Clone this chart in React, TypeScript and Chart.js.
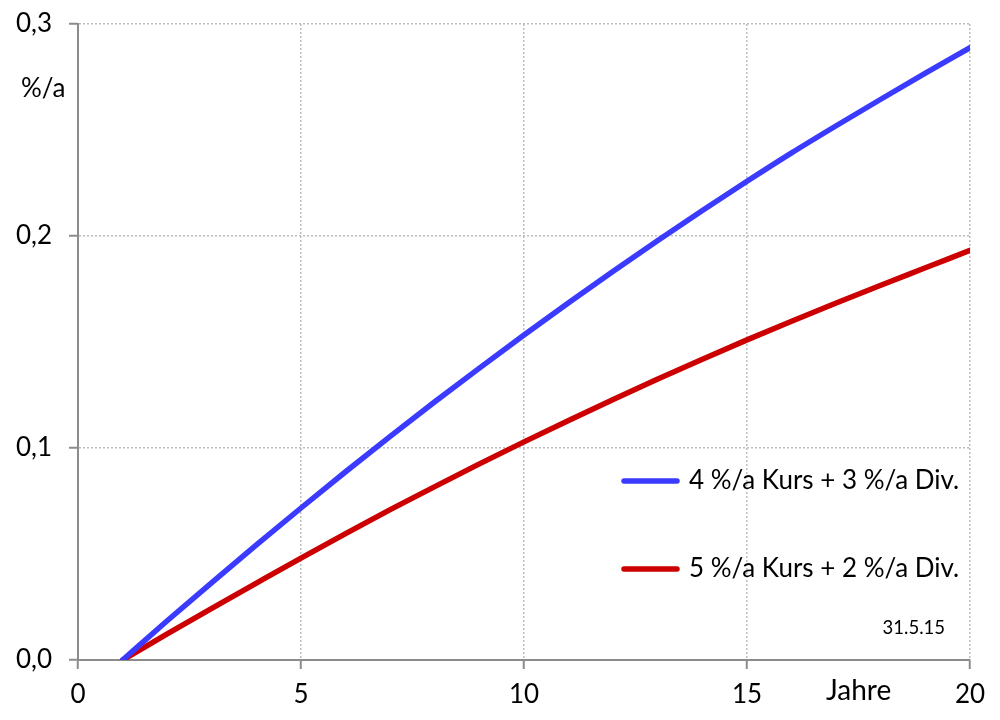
import React, { useEffect, useRef } from "react";
import { Chart, registerables } from "chart.js";

Chart.register(...registerables);

const years = [1, 2, 3, 4, 5, 6, 7, 8, 9, 10, 11, 12, 13, 14, 15, 16, 17, 18, 19, 20];
const blueValues = [0, 0.0185, 0.0365, 0.0543, 0.0717, 0.0888, 0.1055, 0.1218, 0.1377, 0.1533, 0.1685, 0.1834, 0.1979, 0.212, 0.2258, 0.2392, 0.252, 0.2645, 0.2768, 0.2888];
const redValues = [0, 0.0123, 0.0244, 0.0363, 0.0481, 0.0596, 0.0709, 0.0818, 0.0925, 0.1029, 0.113, 0.1229, 0.1325, 0.1419, 0.151, 0.1598, 0.1684, 0.1768, 0.185, 0.1932];
const seriesLabels = ["4 %/a Kurs + 3 %/a Div.", "5 %/a Kurs + 2 %/a Div."];
const seriesColors = ["#3b3bff", "#cc0000"];
const yUnitLabel = "%/a";
const xUnitLabel = "Jahre";
const dateNote = "31.5.15";

const FONT = "Lato, 'Open Sans', sans-serif";

const annotations = {
  id: "annotations",
  afterDraw(chart: any) {
    const ctx = chart.ctx;
    ctx.save();
    ctx.fillStyle = "#000";
    ctx.textBaseline = "middle";
    ctx.textAlign = "left";
    ctx.font = `26px ${FONT}`;
    ctx.fillText(yUnitLabel, 21, 89);
    ctx.font = `28px ${FONT}`;
    ctx.fillText(xUnitLabel, 826, 691);
    // legend
    const legendYs = [481, 569];
    ctx.font = `26px ${FONT}`;
    chart.data.datasets.forEach((ds: any, i: number) => {
      ctx.strokeStyle = ds.borderColor;
      ctx.lineWidth = 5.5;
      ctx.lineCap = "round";
      ctx.beginPath();
      ctx.moveTo(624, legendYs[i]);
      ctx.lineTo(677, legendYs[i]);
      ctx.stroke();
      ctx.fillText(ds.label, 689, legendYs[i]);
    });
    ctx.font = `18.5px ${FONT}`;
    ctx.textAlign = "right";
    ctx.fillText(dateNote, 945, 628);
    ctx.restore();
  },
};

export default function App() {
  const ref = useRef<HTMLCanvasElement>(null);
  useEffect(() => {
    if (!ref.current) return;
    const gridCommon = {
      color: "#bdbdbd",
      lineWidth: 1.5,
      tickColor: "#8c8c8c",
      tickWidth: 2,
      tickLength: 9,
      tickBorderDash: [],
    };
    const chart = new Chart(ref.current, {
      type: "line",
      data: {
        datasets: [
          {
            label: seriesLabels[0],
            data: years.map((x, i) => ({ x, y: blueValues[i] })),
            borderColor: seriesColors[0],
            borderWidth: 5.5,
            pointRadius: 0,
            cubicInterpolationMode: "monotone",
            borderCapStyle: "round",
          },
          {
            label: seriesLabels[1],
            data: years.map((x, i) => ({ x, y: redValues[i] })),
            borderColor: seriesColors[1],
            borderWidth: 5.5,
            pointRadius: 0,
            cubicInterpolationMode: "monotone",
            borderCapStyle: "round",
          },
        ],
      },
      options: {
        responsive: false,
        animation: false,
        layout: { padding: { top: 24, right: 30, left: 0, bottom: 0 } },
        plugins: { legend: { display: false }, tooltip: { enabled: false } },
        scales: {
          x: {
            type: "linear",
            min: 0,
            max: 20,
            ticks: {
              stepSize: 5,
              color: "#000",
              font: { family: FONT, size: 26 },
              padding: 10,
              maxRotation: 0,
            },
            grid: gridCommon,
            border: { display: true, color: "#8c8c8c", width: 2, dash: [2, 2] },
            afterFit: (s: any) => {
              s.height = 60;
            },
          },
          y: {
            type: "linear",
            min: 0,
            max: 0.3,
            ticks: {
              stepSize: 0.1,
              color: "#000",
              font: { family: FONT, size: 26, lineHeight: 0.5 },
              padding: 17,
              callback: (v: any) => Number(v).toFixed(1).replace(".", ","),
            },
            grid: gridCommon,
            border: { display: true, color: "#8c8c8c", width: 2, dash: [2, 2] },
            afterFit: (s: any) => {
              s.width = 78;
            },
          },
        },
      },
      plugins: [annotations],
    } as any);
    return () => chart.destroy();
  }, []);
  return (
    <div style={{ position: "fixed", left: 0, top: 0, width: 1000, height: 720, background: "#fff" }}>
      <canvas ref={ref} width={1000} height={720} />
    </div>
  );
}
